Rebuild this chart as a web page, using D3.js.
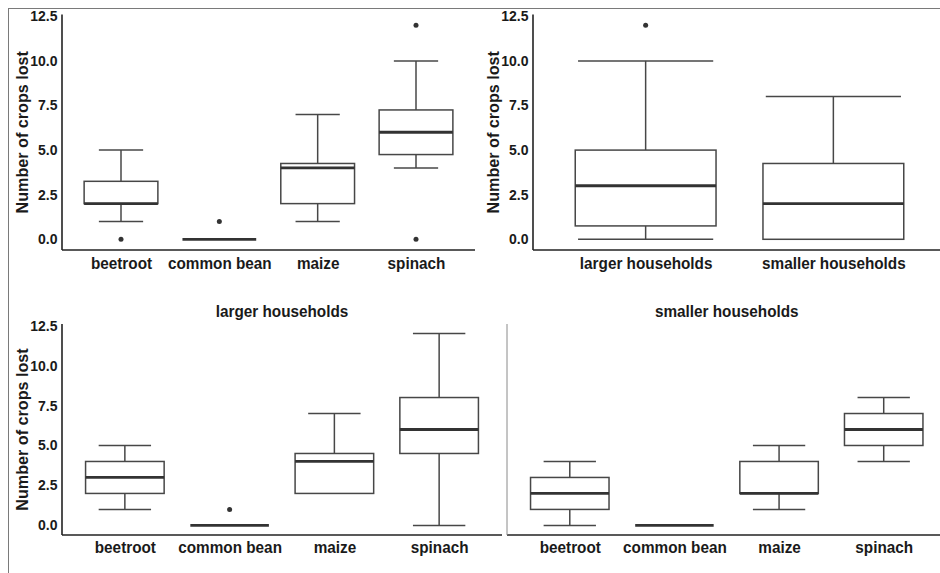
<!DOCTYPE html>
<html>
<head>
<meta charset="utf-8">
<script src="https://cdn.jsdelivr.net/npm/d3@7/dist/d3.min.js"></script>
<style>
  html, body { margin: 0; padding: 0; background: #fff; }
  svg { display: block; font-family: "Liberation Sans", Arial, Helvetica, sans-serif; }
</style>
</head>
<body>
<svg id="chart" width="940" height="573"></svg>
<script>
// Crop losses: five-number summaries [lower whisker, Q1, median, Q3, upper whisker]
const crops = ["beetroot", "common bean", "maize", "spinach"];
const householdGroups = ["larger households", "smaller households"];
const yTicks = [0, 2.5, 5, 7.5, 10, 12.5];
const yDomain = [-0.6, 12.6];

const statsAllCrops = [[1, 2, 2, 3.25, 5], [0, 0, 0, 0, 0], [1, 2, 4, 4.25, 7], [4, 4.75, 6, 7.25, 10]];
const outliersAllCrops = [[0], [1], [], [0, 12]];

const statsByHousehold = [[0, 0.75, 3, 5, 10], [0, 0, 2, 4.25, 8]];
const outliersByHousehold = [[12], []];

const statsLarger = [[1, 2, 3, 4, 5], [0, 0, 0, 0, 0], [2, 2, 4, 4.5, 7], [0, 4.5, 6, 8, 12]];
const outliersLarger = [[], [1], [], []];

const statsSmaller = [[0, 1, 2, 3, 4], [0, 0, 0, 0, 0], [1, 2, 2, 4, 5], [4, 5, 6, 7, 8]];
const outliersSmaller = [[], [], [], []];

const yTitle = "Number of crops lost";

// Panel layout
const panels = [
  { cats: crops, stats: statsAllCrops, outliers: outliersAllCrops,
    x: [62, 475], y: [250, 14.5], cap: 0.45, ticks: true, yAxisStyle: "strong", titleX: 27.5, labelY: 269 },
  { cats: householdGroups, stats: statsByHousehold, outliers: outliersByHousehold,
    x: [533, 946], y: [250, 14.5], cap: 0.72, ticks: true, yAxisStyle: "strong", titleX: 498.5, labelY: 269 },
  { cats: crops, stats: statsLarger, outliers: outliersLarger, title: householdGroups[0],
    x: [62, 502], y: [535, 324], cap: 0.5, ticks: true, yAxisStyle: "strong", titleX: 27.5, labelY: 553 },
  { cats: crops, stats: statsSmaller, outliers: outliersSmaller, title: householdGroups[1],
    x: [507, 946.5], y: [535, 324], cap: 0.5, ticks: false, yAxisStyle: "light", labelY: 553 }
];

const svg = d3.select("#chart");

// squeeze a text element horizontally to a fraction of its natural width
function condense(sel, factor) {
  sel.each(function () {
    const w = this.getComputedTextLength();
    d3.select(this).attr("textLength", w * factor).attr("lengthAdjust", "spacingAndGlyphs");
  });
}

// outer frame lines
svg.append("line").attr("x1", 8).attr("x2", 940).attr("y1", 8.5).attr("y2", 8.5)
  .attr("stroke", "#7a7a7a").attr("stroke-width", 1);
svg.append("line").attr("x1", 8.5).attr("x2", 8.5).attr("y1", 8).attr("y2", 573)
  .attr("stroke", "#7a7a7a").attr("stroke-width", 1);

const boxColor = "#474747";
const textColor = "#1a1a1a";
const labelSize = 17;

panels.forEach(p => {
  const g = svg.append("g");
  const x = d3.scalePoint().domain(p.cats).range(p.x).padding(0.6);
  const y = d3.scaleLinear().domain(yDomain).range(p.y);
  const step = x.step();
  const bw = step * 0.75;
  const cw = step * p.cap;

  // boxes
  p.cats.forEach((c, i) => {
    const [lo, q1, med, q3, hi] = p.stats[i];
    const cx = x(c);
    const bg = g.append("g");
    // whiskers
    if (hi > q3) {
      bg.append("line").attr("x1", cx).attr("x2", cx).attr("y1", y(q3)).attr("y2", y(hi))
        .attr("stroke", boxColor).attr("stroke-width", 1.5);
      bg.append("line").attr("x1", cx - cw / 2).attr("x2", cx + cw / 2).attr("y1", y(hi)).attr("y2", y(hi))
        .attr("stroke", boxColor).attr("stroke-width", 1.5);
    }
    if (lo < q1) {
      bg.append("line").attr("x1", cx).attr("x2", cx).attr("y1", y(q1)).attr("y2", y(lo))
        .attr("stroke", boxColor).attr("stroke-width", 1.5);
      bg.append("line").attr("x1", cx - cw / 2).attr("x2", cx + cw / 2).attr("y1", y(lo)).attr("y2", y(lo))
        .attr("stroke", boxColor).attr("stroke-width", 1.5);
    }
    // box
    bg.append("rect").attr("x", cx - bw / 2).attr("width", bw)
      .attr("y", y(q3)).attr("height", Math.max(0, y(q1) - y(q3)))
      .attr("fill", "#fff").attr("stroke", boxColor).attr("stroke-width", 1.5);
    // median
    bg.append("line").attr("x1", cx - bw / 2).attr("x2", cx + bw / 2).attr("y1", y(med)).attr("y2", y(med))
      .attr("stroke", "#333").attr("stroke-width", 2.8);
    // outliers
    bg.selectAll("circle").data(p.outliers[i]).join("circle")
      .attr("cx", cx).attr("cy", d => y(d)).attr("r", 2.5).attr("fill", "#333");
  });

  // x axis
  const xAxis = g.append("g").attr("transform", `translate(0,${p.y[0]})`)
    .call(d3.axisBottom(x).tickSize(0).tickPadding(0));
  xAxis.select(".domain").attr("d", `M${p.x[0]},0H${p.x[1]}`).attr("stroke", "#222").attr("stroke-width", 1.6);
  xAxis.selectAll(".tick text").attr("y", p.labelY - p.y[0]).attr("dy", 0)
    .attr("font-size", labelSize).attr("font-weight", "bold").attr("fill", textColor)
    .call(condense, 0.9);

  // y axis
  const yAxis = g.append("g").attr("transform", `translate(${p.x[0]},0)`)
    .call(d3.axisLeft(y).tickValues(yTicks).tickFormat(d3.format(".1f")).tickSize(0).tickPadding(4.5));
  yAxis.select(".domain").attr("d", `M0,${p.y[0]}V${p.y[1]}`)
    .attr("stroke", p.yAxisStyle === "strong" ? "#222" : "#8a8a8a")
    .attr("stroke-width", p.yAxisStyle === "strong" ? 1.6 : 1);
  if (p.ticks) {
    yAxis.selectAll(".tick text").attr("font-size", 14).attr("font-weight", "bold").attr("fill", textColor);
    g.append("text")
      .attr("transform", `translate(${p.titleX},${(p.y[0] + p.y[1]) / 2}) rotate(-90)`)
      .attr("text-anchor", "middle").attr("font-size", labelSize).attr("font-weight", "bold")
      .attr("fill", textColor).text(yTitle)
      .call(condense, 0.95);
  } else {
    yAxis.selectAll(".tick").remove();
  }

  if (p.title) {
    g.append("text").attr("x", (p.x[0] + p.x[1]) / 2).attr("y", 317)
      .attr("text-anchor", "middle").attr("font-size", labelSize).attr("font-weight", "bold")
      .attr("fill", textColor).text(p.title)
      .call(condense, 0.9);
  }
});
</script>
</body>
</html>
